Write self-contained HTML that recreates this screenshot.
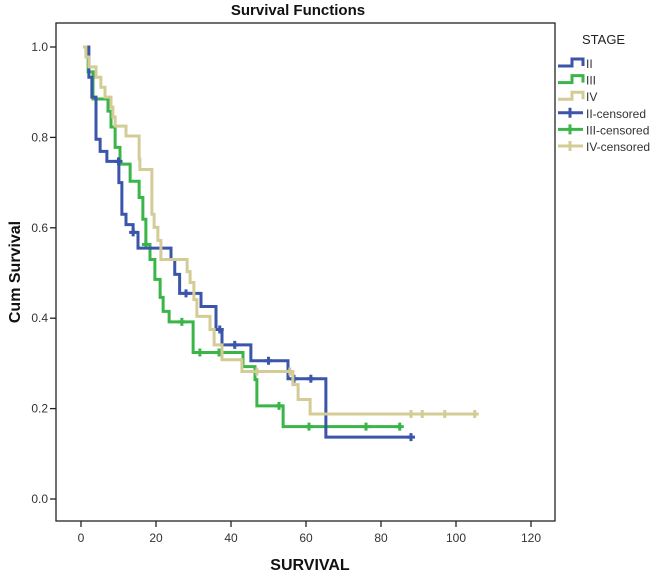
<!DOCTYPE html>
<html><head><meta charset="utf-8"><style>
body{margin:0;background:#fff;}
svg text{font-family:"Liberation Sans",Arial,sans-serif;}
</style></head><body>
<svg id="chart" width="657" height="574" viewBox="0 0 657 574">
<rect x="0" y="0" width="657" height="574" fill="#fff"/>
<text x="298" y="15" text-anchor="middle" font-size="15" font-weight="bold" fill="#111">Survival Functions</text>
<rect x="56" y="23" width="499" height="498" fill="none" stroke="#222" stroke-width="1.3"/>
<g id="axes"></g>
<g id="series"></g>
<text x="310" y="570" text-anchor="middle" font-size="16" font-weight="bold" fill="#111">SURVIVAL</text>
<text transform="translate(20,272) rotate(-90)" text-anchor="middle" font-size="16" font-weight="bold" fill="#111">Cum Survival</text>
<g id="legend">
<text x="582" y="44" font-size="13" fill="#222">STAGE</text>
</g>
</svg>
<script>
const xTicks=[0,20,40,60,80,100,120];
const yTicks=[0.0,0.2,0.4,0.6,0.8,1.0];
const seriesNames=["II","III","IV"];
const colors=["#3a55aa","#3bb54a","#d4cc96"];
const timesII=[1,2.1,2.9,4.0,5.1,6.9,10.1,10.9,12,13.9,15.2,24,25,26.3,32,36,37.6,45.3,55.2,65.3];
const survII=[1,0.933,0.889,0.796,0.769,0.747,0.70,0.63,0.607,0.59,0.555,0.53,0.497,0.455,0.426,0.375,0.341,0.306,0.266,0.137];
const endII=88;
const censII=[10,13.9,28,37,41,50,56.8,61.3,88];
const timesIII=[1,1.9,3.2,7.2,8,9.1,10.4,13.1,15.5,16.5,17.3,18.4,19.7,21.1,21.9,23.5,29.9,43.2,46.4,46.9,53.9];
const survIII=[1,0.945,0.885,0.858,0.823,0.778,0.741,0.703,0.667,0.619,0.563,0.53,0.486,0.446,0.415,0.392,0.324,0.293,0.264,0.206,0.16];
const endIII=85;
const censIII=[17.3,26.9,31.7,36.8,52.8,60.8,76,85];
const timesIV=[0.5,1.3,2.1,4,5.3,6.4,8,8.5,9.1,12,15.5,15.7,18.9,19.5,20.5,21.3,28.3,29.1,30.1,30.9,34.4,35.5,37.6,42.9,56.5,57.9,61.1];
const survIV=[1,0.978,0.956,0.933,0.911,0.889,0.867,0.845,0.825,0.803,0.752,0.729,0.63,0.601,0.572,0.53,0.503,0.479,0.441,0.404,0.375,0.341,0.308,0.282,0.253,0.22,0.188];
const endIV=105;
const censIV=[46.9,55.7,88,91,97,105];

const X=t=>81+t*3.75;
const Y=s=>499-s*452;
const NS="http://www.w3.org/2000/svg";
function mk(tag,attrs,parent){const e=document.createElementNS(NS,tag);for(const k in attrs)e.setAttribute(k,attrs[k]);parent.appendChild(e);return e;}
const axes=document.getElementById('axes');
xTicks.forEach(v=>{
  const l=mk('line',{x1:X(v),x2:X(v),y1:521,y2:527,stroke:'#222','stroke-width':1.3},axes);
  
  
  const t=mk('text',{x:X(v),y:542,'text-anchor':'middle','font-size':12,fill:'#333'},axes);
  t.textContent=v;
  
  
});
yTicks.forEach(v=>{
  const l=mk('line',{x1:50,x2:56,y1:Y(v),y2:Y(v),stroke:'#222','stroke-width':1.3},axes);
  
  
  const t=mk('text',{x:48,y:Y(v)+4,'text-anchor':'end','font-size':12,fill:'#333'},axes);
  t.textContent=v.toFixed(1);
  
  
});
function stepFn(times,surv,t){let s=surv[0];for(let i=0;i<times.length;i++){if(times[i]<=t)s=surv[i];}return s;}
const sg=document.getElementById('series');
const all=[[timesIII,survIII,endIII,censIII,1],[timesII,survII,endII,censII,0],[timesIV,survIV,endIV,censIV,2]];
all.forEach(([ts,ss,end,cs,ci])=>{
  let d='M'+X(ts[0])+','+Y(ss[0]);
  for(let i=1;i<ts.length;i++){d+=' H'+X(ts[i])+' V'+Y(ss[i]);}
  d+=' H'+X(end);
  const p=mk('path',{d:d,fill:'none',stroke:colors[ci],'stroke-width':3},sg);
  
  
  cs.forEach(c=>{
    const s=stepFn(ts,ss,c);
    const m=mk('path',{d:'M'+(X(c)-4)+','+Y(s)+' h8 M'+X(c)+','+(Y(s)-4)+' v8',stroke:colors[ci],'stroke-width':3,fill:'none'},sg);
    
    
  });
});
const lg=document.getElementById('legend');
const labels=["II","III","IV","II-censored","III-censored","IV-censored"];
labels.forEach((lab,i)=>{
  const y=63+i*16.6;const c=colors[i%3];
  let icon;
  if(i<3){icon=mk('path',{d:`M558,${y+3} H572 V${y-4} H583 V${y+3}`,stroke:c,'stroke-width':3,fill:'none'},lg);}
  else{icon=mk('path',{d:`M558,${y} H583 M570,${y-5} V${y+5}`,stroke:c,'stroke-width':3,fill:'none'},lg);}
  
  
  const t=mk('text',{x:586,y:y+5,'font-size':12,fill:'#333'},lg);
  t.textContent=lab;
  
  
});
</script>
</body></html>
